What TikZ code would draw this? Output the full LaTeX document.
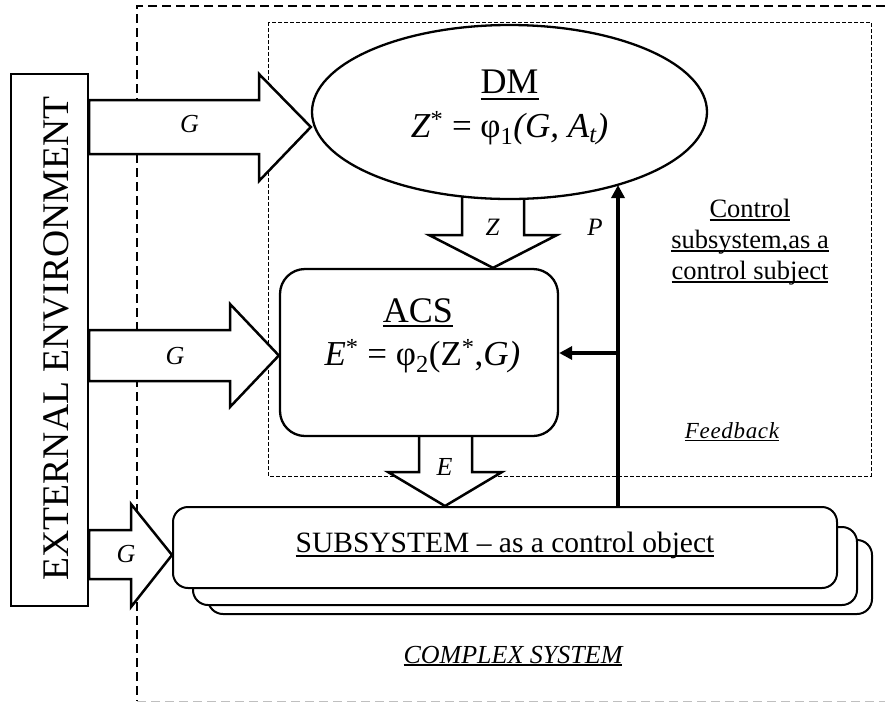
\documentclass[tikz,border=0pt]{standalone}
\usepackage{fontspec}
\setmainfont{Liberation Serif}
\usetikzlibrary{arrows.meta,shapes.geometric,backgrounds}
\newcommand\ulined[2][0.12em]{\setbox0\hbox{#2}\rlap{\rule[-#1]{\wd0}{0.06em}}\box0}
\tikzset{every node/.style={inner sep=0pt}}
\tikzset{unit/.style={draw, line width=2.3pt, fill=white}}
\tikzset{layer/.style={draw, line width=2pt, fill=white, rounded corners=15pt, minimum width=664pt}}
\tikzset{blockarrow/.style={draw, line width=2.5pt, fill=white, line join=miter, miter limit=10}}
\tikzset{feedline/.style={line width=3.3pt, -{Triangle[length=13pt,width=13pt]}}}
\tikzset{lbl/.style={font=\fontsize{26}{30}\selectfont\itshape, anchor=base}}
\tikzset{outerframe/.style={line width=1.1pt, dash pattern=on 9pt off 5pt}}
\tikzset{innerframe/.style={line width=1pt, dash pattern=on 4pt off 2pt}}

\begin{document}
\begin{tikzpicture}[x=1pt,y=-1pt]
  \useasboundingbox (0,0) rectangle (885,702);

  % blocks
  \node[unit, ellipse, minimum width=395pt, minimum height=174pt] (dm) at (509.5,112) {};
  \node[unit, rounded corners=25pt, minimum width=278pt, minimum height=167pt] (acs) at (419,352.5) {};
  \node[layer, minimum height=74pt] (sub3) at (540,577) {};
  \node[layer, minimum height=78pt] (sub2) at (525,566) {};
  \node[layer, minimum height=81pt] (sub1) at (505,547.5) {};
  \node[unit, fill=none, minimum width=77pt, minimum height=532pt] (env) at (49.5,340) {};

  % frames and vertical block arrows, under the blocks
  \begin{pgfonlayer}{background}
    \draw[outerframe] (885,6) -- (137,6) -- (137,701.3);
    \draw[outerframe, black!25] (137,701.3) -- (885,701.3);
    \draw[innerframe] (268,22) rectangle (871,476);
    \draw[blockarrow] (462,185) -- (462,235) -- (429,235) -- (acs.north -| 493,0)
      -- (557,235) -- (524,235) -- (524,185) -- cycle;
    \draw[blockarrow] (419,425) -- (419,472) -- (388,472) -- (sub1.north -| 445,0)
      -- (502,472) -- (472,472) -- (472,425) -- cycle;
  \end{pgfonlayer}

  % inputs from the environment
  \draw[blockarrow] (env.east |- 0,100) -- (259,100) -- (259,74) -- (dm.west |- 0,127)
    -- (259,181) -- (259,154) -- (env.east |- 0,154) -- cycle;
  \draw[blockarrow] (env.east |- 0,330) -- (230,330) -- (230,304) -- (acs.west |- 0,355.5)
    -- (230,407) -- (230,381) -- (env.east |- 0,381) -- cycle;
  \draw[blockarrow] (env.east |- 0,530) -- (131,530) -- (131,504) -- (sub1.west |- 0,555)
    -- (131,607) -- (131,579) -- (env.east |- 0,579) -- cycle;

  % feedback
  \coordinate (pfork) at (618,353);
  \draw[feedline] (pfork |- sub1.north) -- (pfork |- 0,185);
  \draw[feedline] (pfork) -- (acs.east |- pfork);

  % texts
  \node[anchor=base, rotate=90, font=\fontsize{37.6}{40}\selectfont] (envtext) at (68,338.5) {EXTERNAL ENVIRONMENT};
  \node[anchor=base, font=\fontsize{36}{40}\selectfont] (dmtitle) at (509.5,93.5) {\ulined[0.19em]{DM}};
  \node[anchor=base, font=\fontsize{35}{40}\selectfont] (dmformula) at (509.5,137)
    {\textit{Z}\textsuperscript{*} = φ\textsubscript{1}\textit{(G, A\textsubscript{t})}};
  \node[anchor=base, font=\fontsize{36}{40}\selectfont] (acstitle) at (418,322) {\ulined[0.14em]{ACS}};
  \node[anchor=base, font=\fontsize{35}{40}\selectfont] (acsformula) at (422.5,365)
    {\textit{E}\textsuperscript{*} = φ\textsubscript{2}(Z\textsuperscript{*},\textit{G)}};
  \node[anchor=base, font=\fontsize{29.5}{34}\selectfont] (subtitle) at (505,552)
    {\ulined[0.17em]{SUBSYSTEM – as a control object}};
  \node[anchor=north, align=center, font=\fontsize{26.5}{31}\selectfont] (ctrltext) at (750,199)
    {\ulined{Control}\\\ulined{subsystem,as a}\\\ulined{control subject}};
  \node[anchor=base, font=\fontsize{23}{28}\selectfont\itshape\addfontfeatures{LetterSpace=3}] (feedtext) at (732,438) {\ulined[0.13em]{Feedback}};
  \node[anchor=base, font=\fontsize{26}{30}\selectfont\itshape] (complextext) at (513,663) {\ulined[0.11em]{COMPLEX SYSTEM}};

  % arrow labels
  \node[lbl] (gtop) at (189.5,132) {G};
  \node[lbl] (gmid) at (175,364) {G};
  \node[lbl] (gbot) at (126,562.5) {G};
  \node[lbl, font=\fontsize{25}{30}\selectfont\itshape] (zlab) at (492.5,235) {Z};
  \node[lbl] (elab) at (444.5,475) {E};
  \node[lbl, font=\fontsize{25}{30}\selectfont\itshape] (plab) at (595,235) {P};
\end{tikzpicture}
\end{document}
